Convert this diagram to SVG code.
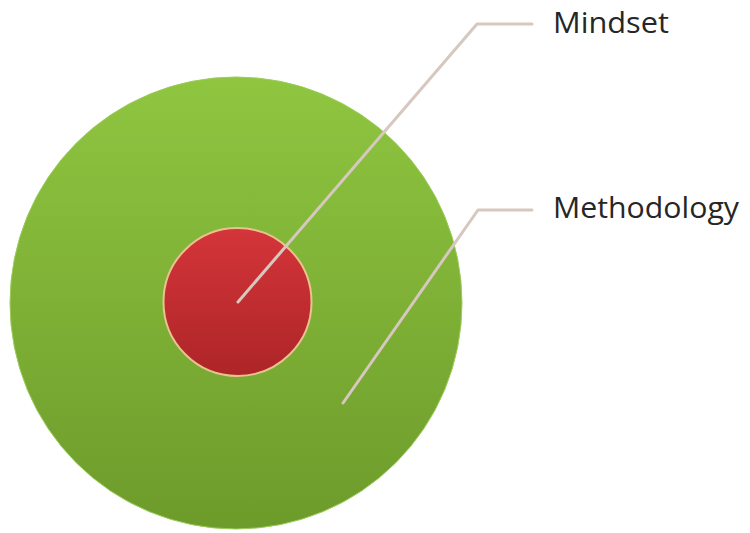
<svg xmlns="http://www.w3.org/2000/svg" width="750" height="533" viewBox="0 0 750 533">
<defs>
<linearGradient id="gGreen" x1="0" y1="0" x2="0" y2="1">
<stop offset="0" stop-color="#8fc640"/>
<stop offset="1" stop-color="#6d9b2b"/>
</linearGradient>
<linearGradient id="gRed" x1="0" y1="0" x2="0" y2="1">
<stop offset="0" stop-color="#d4353a"/>
<stop offset="1" stop-color="#ad2527"/>
</linearGradient>
<style>
.lbl{font-family:"Open Sans","Liberation Sans",sans-serif;font-size:29px;fill:#262626}
.conn{fill:none;stroke:#d6c7bf;stroke-width:3;stroke-linejoin:round;stroke-linecap:round}
</style>
</defs>
<rect width="750" height="533" fill="#ffffff"/>
<g id="methodology">
<circle cx="236" cy="303" r="226" fill="url(#gGreen)" stroke="#9ccc5a" stroke-width="1"/>
</g>
<g id="mindset">
<circle cx="237.5" cy="302" r="74" fill="url(#gRed)" stroke="#e9c28e" stroke-width="2"/>
</g>
<g id="connectors">
<polyline class="conn" points="238,302 477,24 532,24"/>
<polyline class="conn" points="343,403 478,210 532,210"/>
</g>
<g id="labels">
<text class="lbl" x="553" y="33" textLength="116" lengthAdjust="spacingAndGlyphs">Mindset</text>
<text class="lbl" x="553" y="218" textLength="186" lengthAdjust="spacingAndGlyphs">Methodology</text>
</g>
</svg>
